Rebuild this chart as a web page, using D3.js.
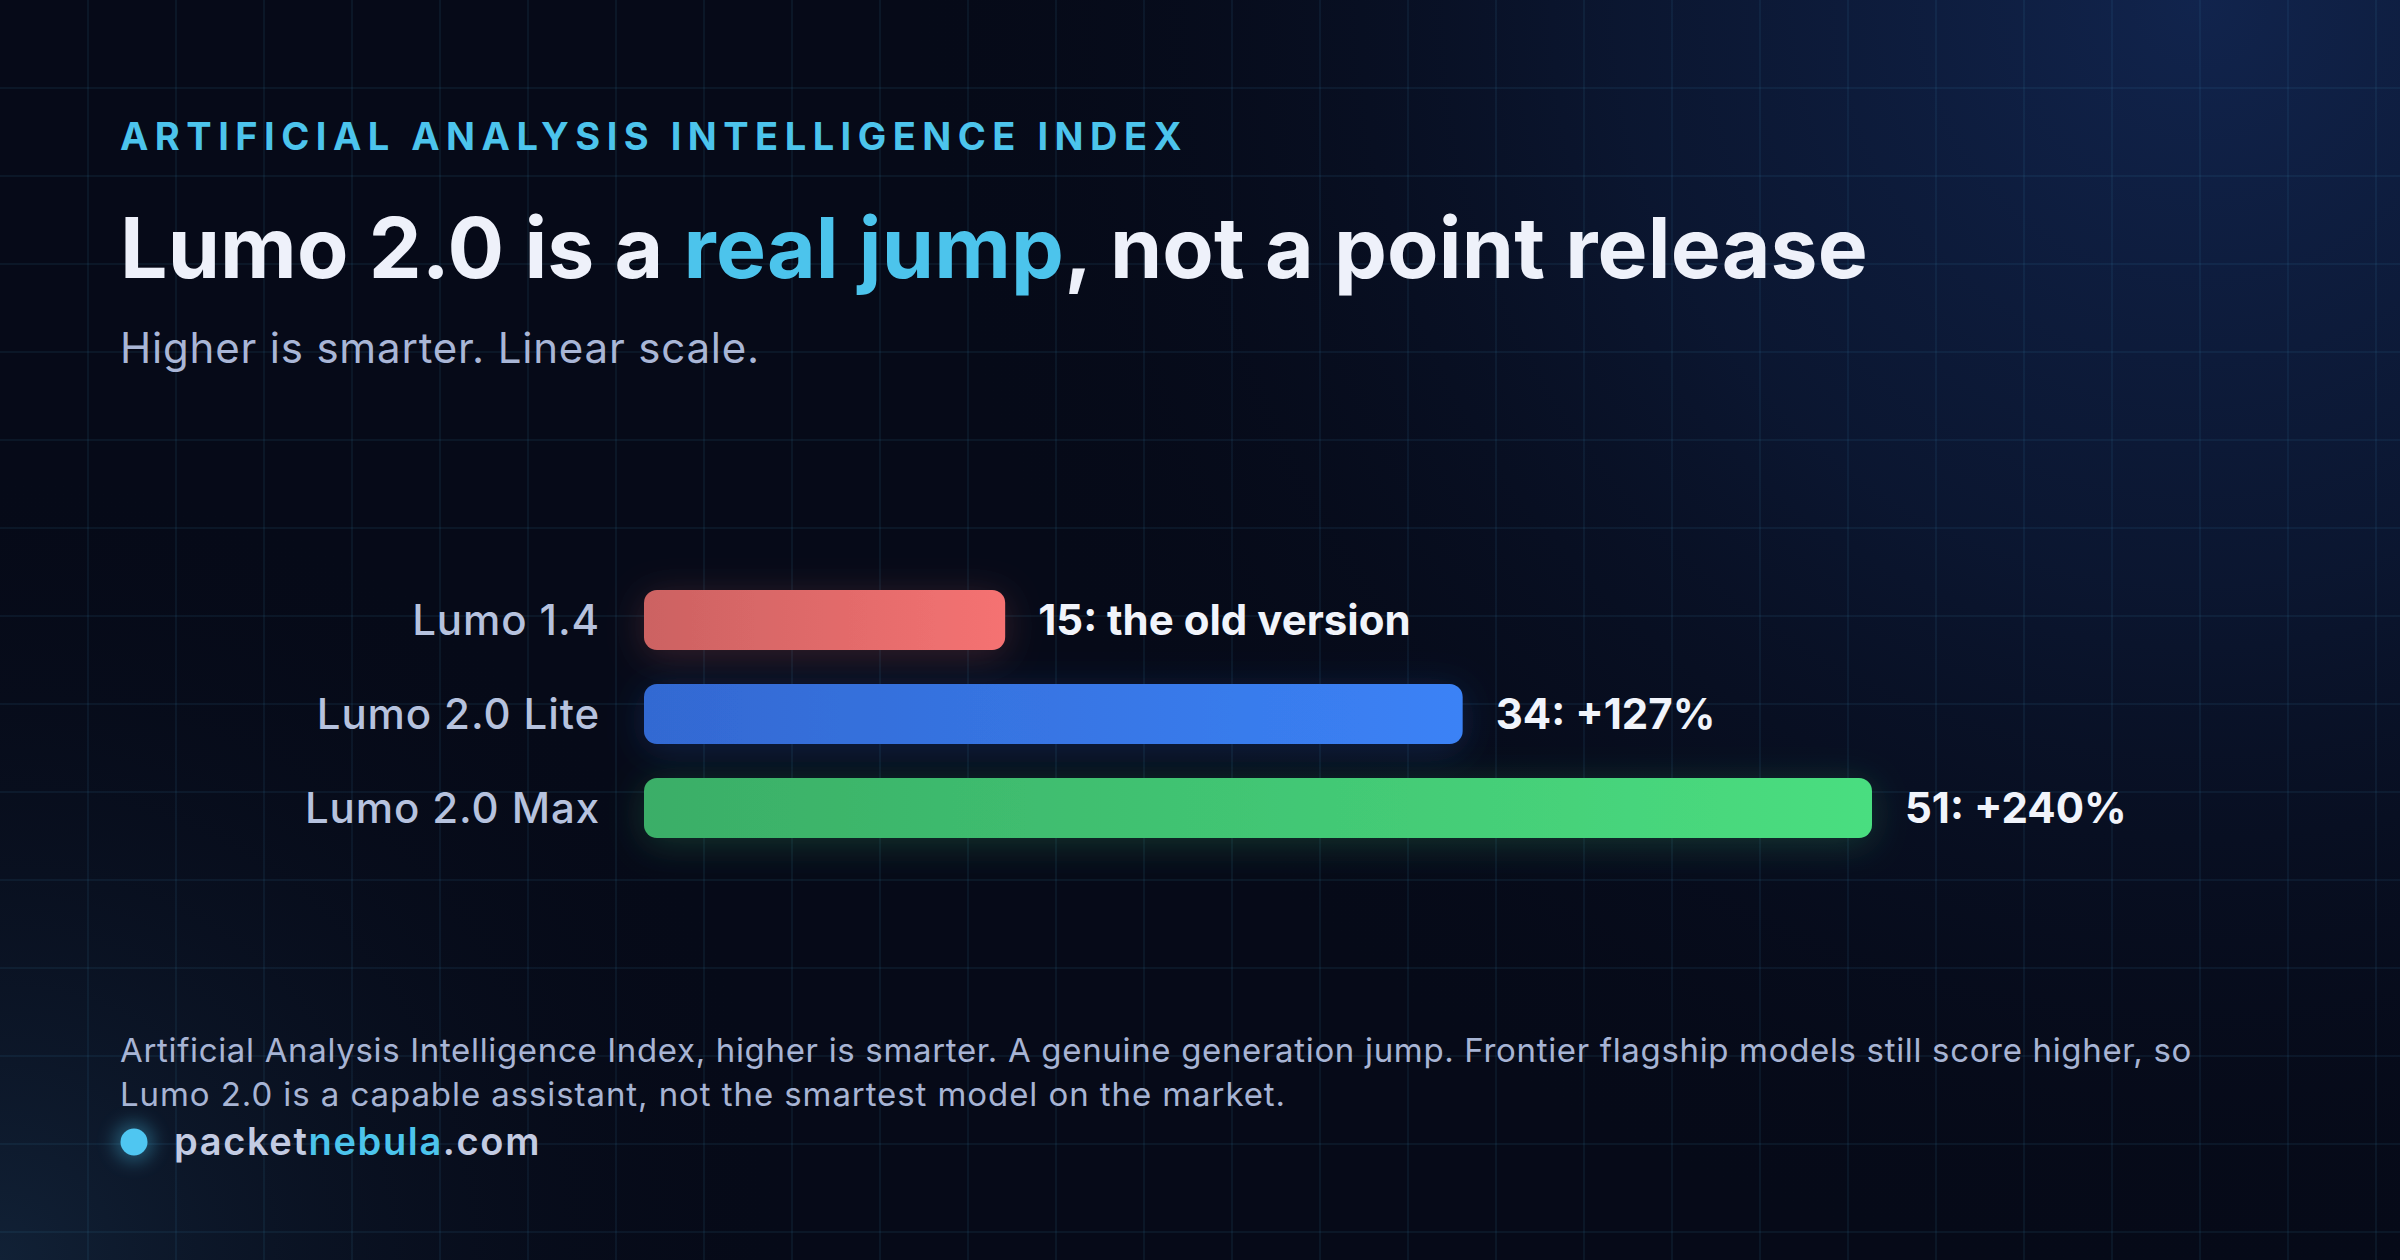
<!DOCTYPE html>
<html>
<head>
<meta charset="utf-8">
<script src="https://cdn.jsdelivr.net/npm/d3@7"></script>
<style>
  html, body { margin: 0; padding: 0; background: #060a18; }
  svg { display: block; }
  text { font-family: Inter, "Noto Sans", sans-serif; }
</style>
</head>
<body>
<svg id="chart" width="2400" height="1260"></svg>
<script>
// ---- data ----
const categories = ["Lumo 1.4", "Lumo 2.0 Lite", "Lumo 2.0 Max"];
const scores = [15, 34, 51];
const valueLabels = ["15: the old version", "34: +127%", "51: +240%"];
const barColorsStart = ["#cc6262", "#3369d2", "#3aae67"];
const barColorsEnd = ["#f57272", "#3b82f6", "#4ade80"];
const kicker = "ARTIFICIAL ANALYSIS INTELLIGENCE INDEX";
const titleParts = [["Lumo 2.0 is a ", false], ["real jump", true], [", not a point release", false]];
const subtitle = "Higher is smarter. Linear scale.";
const footerLines = [
  "Artificial Analysis Intelligence Index, higher is smarter. A genuine generation jump. Frontier flagship models still score higher, so",
  "Lumo 2.0 is a capable assistant, not the smartest model on the market."
];
const siteParts = [["packet", false], ["nebula", true], [".com", false]];

const W = 2400, H = 1260;
const svg = d3.select("#chart");
const defs = svg.append("defs");

// background gradients
const rg1 = defs.append("radialGradient").attr("id", "glowTR")
  .attr("gradientUnits", "userSpaceOnUse").attr("cx", 2200).attr("cy", 0).attr("r", 1300);
rg1.append("stop").attr("offset", 0).attr("stop-color", "#11244d").attr("stop-opacity", 1);
rg1.append("stop").attr("offset", 0.45).attr("stop-color", "#0c1936").attr("stop-opacity", 0.8);
rg1.append("stop").attr("offset", 1).attr("stop-color", "#060a18").attr("stop-opacity", 0);
const rg2 = defs.append("radialGradient").attr("id", "glowBL")
  .attr("gradientUnits", "userSpaceOnUse").attr("cx", 0).attr("cy", 1260).attr("r", 800);
rg2.append("stop").attr("offset", 0).attr("stop-color", "#112136").attr("stop-opacity", 1);
rg2.append("stop").attr("offset", 1).attr("stop-color", "#060a18").attr("stop-opacity", 0);

svg.append("rect").attr("width", W).attr("height", H).attr("fill", "#060a18");
svg.append("rect").attr("width", W).attr("height", H).attr("fill", "url(#glowTR)");
svg.append("rect").attr("width", W).attr("height", H).attr("fill", "url(#glowBL)");

// grid
const gridStep = 88;
const grid = svg.append("g").attr("stroke", "rgba(70,150,190,0.13)").attr("stroke-width", 1.5);
grid.selectAll("line.v").data(d3.range(gridStep, W, gridStep)).join("line")
  .attr("x1", d => d).attr("x2", d => d).attr("y1", 0).attr("y2", H);
grid.selectAll("line.h").data(d3.range(gridStep, H, gridStep)).join("line")
  .attr("x1", 0).attr("x2", W).attr("y1", d => d).attr("y2", d => d);

function fit(sel, target) {
  const node = sel.node();
  const w = node.getComputedTextLength();
  const n = node.textContent.length;
  const cur = parseFloat(sel.attr("letter-spacing") || 0);
  sel.attr("letter-spacing", cur + (target - w) / n);
}

// kicker
const k = svg.append("text").attr("x", 120).attr("y", 150)
  .attr("font-size", 38).attr("font-weight", 700).attr("fill", "#4cc4ec")
  .attr("letter-spacing", 5).text(kicker);
fit(k, 1068);

// title
const t = svg.append("text").attr("x", 120).attr("y", 278)
  .attr("font-size", 84).attr("font-weight", 700).attr("fill", "#eef1fa");
t.selectAll("tspan").data(titleParts).join("tspan")
  .attr("fill", d => d[1] ? "#4cc4ec" : "#eef1fa").text(d => d[0]);
fit(t, 1748);

// subtitle
const s = svg.append("text").attr("x", 120).attr("y", 363)
  .attr("font-size", 42).attr("font-weight", 400).attr("fill", "#a9b6d6").text(subtitle);
fit(s, 640);

// scales
const x = d3.scaleLinear().domain([0, 51]).range([644, 1872]);
const y = d3.scaleBand().domain(categories).range([573, 855])
  .paddingInner(34 / 94).paddingOuter(17 / 94);

// gradients & glow
categories.forEach((c, i) => {
  const lg = defs.append("linearGradient").attr("id", "bar" + i)
    .attr("x1", 0).attr("x2", 1).attr("y1", 0).attr("y2", 0);
  lg.append("stop").attr("offset", 0).attr("stop-color", barColorsStart[i]);
  lg.append("stop").attr("offset", 1).attr("stop-color", barColorsEnd[i]);
  const f = defs.append("filter").attr("id", "glow" + i)
    .attr("x", -0.2).attr("y", -1).attr("width", 1.4).attr("height", 3);
  f.append("feDropShadow").attr("dx", 0).attr("dy", 6).attr("stdDeviation", 18)
    .attr("flood-color", barColorsEnd[i]).attr("flood-opacity", 0.2);
});

const rows = categories.map((c, i) => ({ c, v: scores[i], label: valueLabels[i], i }));

const bars = svg.append("g");
bars.selectAll("rect").data(rows).join("rect")
  .attr("x", x(0)).attr("y", d => y(d.c))
  .attr("width", d => x(d.v) - x(0)).attr("height", y.bandwidth())
  .attr("rx", 13).attr("ry", 13)
  .attr("fill", d => `url(#bar${d.i})`)
  .attr("filter", d => `url(#glow${d.i})`);

// category labels
svg.append("g").selectAll("text").data(rows).join("text")
  .attr("x", 600).attr("y", d => y(d.c) + y.bandwidth() / 2 + 15)
  .attr("text-anchor", "end").attr("font-size", 42).attr("font-weight", 500)
  .attr("letter-spacing", 0.9)
  .attr("fill", "#b6c2de").text(d => d.c);

// value labels
svg.append("g").selectAll("text").data(rows).join("text")
  .attr("x", d => x(d.v) + 33).attr("y", d => y(d.c) + y.bandwidth() / 2 + 15)
  .attr("font-size", 42).attr("font-weight", 700)
  .attr("fill", "#f1f4fb").text(d => d.label);

// footer
const fl = svg.append("g");
const footerTargets = [2072, 1166];
footerLines.forEach((line, i) => {
  const ft = fl.append("text").attr("x", 120).attr("y", 1062 + i * 44)
    .attr("font-size", 33).attr("font-weight", 400).attr("fill", "#a7b4d4").text(line);
  fit(ft, footerTargets[i]);
});

// site marker
const dotF = defs.append("filter").attr("id", "dotGlow")
  .attr("x", -2).attr("y", -2).attr("width", 5).attr("height", 5);
dotF.append("feGaussianBlur").attr("stdDeviation", 9);
svg.append("circle").attr("cx", 134).attr("cy", 1142).attr("r", 20)
  .attr("fill", "#4cc4ec").attr("opacity", 0.35).attr("filter", "url(#dotGlow)");
svg.append("circle").attr("cx", 134).attr("cy", 1142).attr("r", 13.5).attr("fill", "#4fc6f1");

const site = svg.append("text").attr("x", 174).attr("y", 1155)
  .attr("font-size", 38).attr("font-weight", 600).attr("fill", "#c3cbe2");
site.selectAll("tspan").data(siteParts).join("tspan")
  .attr("fill", d => d[1] ? "#4cc4ec" : "#c3cbe2").text(d => d[0]);
fit(site, 367);
</script>
</body>
</html>
